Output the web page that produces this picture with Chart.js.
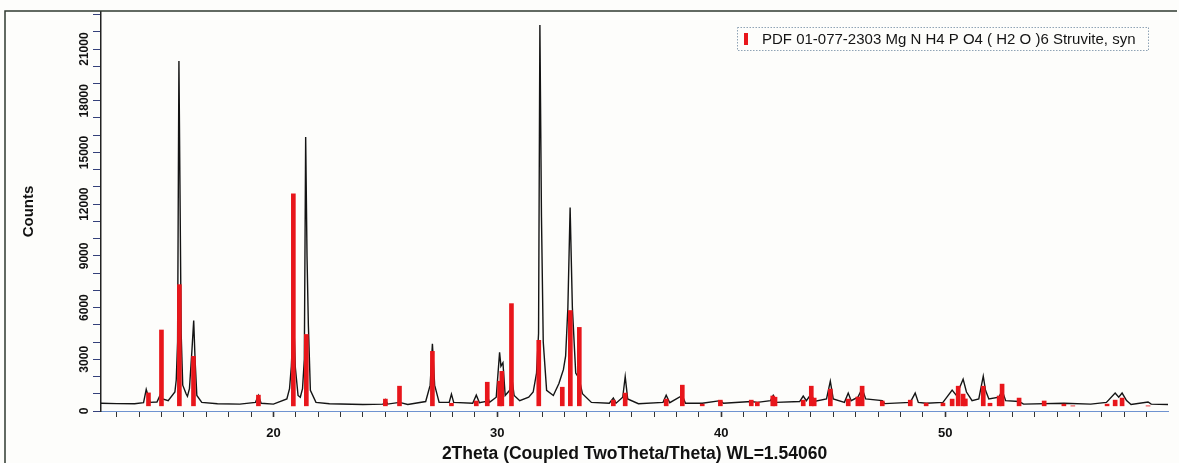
<!DOCTYPE html>
<html>
<head>
<meta charset="utf-8">
<script src="https://cdn.jsdelivr.net/npm/chart.js@4.4.1/dist/chart.umd.min.js"></script>
<style>
  html, body { margin: 0; padding: 0; background: #fdfdfb; }
</style>
</head>
<body>
<canvas id="xrd" width="1179" height="463"></canvas>
<script>
// measured pattern (2theta in degrees, counts)
const twoTheta = [
  12.3, 13.0, 13.8, 14.2, 14.32, 14.4, 14.5, 14.8, 14.95, 15.05, 15.3, 15.6, 15.66, 15.72, 15.78, 15.82, 15.88, 15.95,
  16.1, 16.16, 16.25, 16.36, 16.44, 16.5, 16.58, 16.8, 17.5, 18.5, 19.2, 19.33, 19.45, 20.0, 20.6, 20.72, 20.8,
  20.9, 20.98, 21.1, 21.2, 21.3, 21.38, 21.44, 21.5, 21.56, 21.65, 21.9, 22.5, 24.0, 24.9, 25.0, 25.1, 25.63,
  26.0, 26.8, 27.0, 27.1, 27.2, 27.4, 27.85, 27.95, 28.05, 28.9, 29.06, 29.2, 29.5, 29.55, 29.65, 29.95,
  30.1, 30.16, 30.25, 30.35, 30.55, 30.65, 30.75, 31.0, 31.4, 31.6, 31.75, 31.84, 31.9, 31.97, 32.05, 32.2, 32.5,
  32.75, 32.85, 32.95, 33.05, 33.15, 33.25, 33.35, 33.5, 33.65, 33.8, 34.2, 35.0, 35.18, 35.3, 35.6, 35.71,
  35.82, 36.3, 37.4, 37.54, 37.7, 38.26, 38.4, 39.15, 39.96, 40.1, 41.34, 41.61, 42.2, 42.32, 42.45, 43.5,
  43.66, 43.8, 44.02, 44.15, 44.7, 44.87, 45.0, 45.5, 45.67, 45.8, 46.1, 46.29, 46.45, 47.19, 47.3, 48.44,
  48.66, 48.8, 49.15, 49.9, 50.31, 50.5, 50.8, 50.95, 51.2, 51.5, 51.7, 51.8, 51.95, 52.4, 52.54, 52.7,
  53.3, 53.5, 55.3, 56.5, 57.2, 57.59, 57.75, 57.9, 58.1, 58.3, 59.06, 59.2, 59.95
];
const counts = [
  450, 430, 420, 480, 1250, 900, 500, 520, 950, 700, 600, 1100, 1800, 4000, 20300, 14000, 4500, 1500,
  1000, 850, 1300, 3500, 5250, 3000, 900, 500, 420, 400, 500, 900, 450, 400, 700, 1300, 2600,
  5500, 2500, 900, 800, 1300, 3000, 15900, 9000, 5000, 1200, 500, 420, 380, 400, 650, 400, 500,
  380, 550, 1500, 3900, 1500, 500, 500, 980, 500, 450, 920, 480, 550, 900, 500, 800,
  3400, 2600, 2800, 900, 1200, 1900, 900, 600, 800, 1100, 2200, 4500, 22400, 11300, 4000, 1200, 900,
  1600, 2000, 2400, 3200, 6000, 11800, 6000, 2200, 1900, 1000, 500, 450, 750, 450, 800, 2000,
  700, 420, 500, 920, 480, 900, 450, 450, 600, 450, 550, 500, 600, 900, 500, 550,
  870, 600, 1000, 550, 700, 1730, 700, 500, 1040, 600, 800, 1300, 700, 600, 430, 500,
  1040, 500, 450, 500, 1210, 900, 1850, 1100, 600, 700, 2020, 1200, 700, 800, 1200, 600,
  550, 400, 450, 400, 500, 1040, 800, 1040, 600, 380, 520, 400, 380
];

// reference sticks, PDF 01-077-2303
const refTwoTheta = [
  14.42, 15.0, 15.8, 16.43, 19.33, 20.89, 21.47, 25.0, 25.63, 27.1, 27.95, 29.06, 29.55, 30.1, 30.2,
  30.63, 31.85, 32.9, 33.26, 33.66, 35.18, 35.71, 37.54, 38.26, 39.15, 39.96, 41.34, 41.61, 42.3, 42.4,
  43.66, 44.02, 44.15, 44.87, 45.67, 46.1, 46.29, 47.19, 48.44, 49.15, 49.9, 50.31, 50.58, 50.8, 50.9,
  51.7, 52.0, 52.41, 52.54, 53.3, 54.42, 55.3, 55.7, 57.23, 57.59, 57.9, 59.06
];
const refIntensity = [
  1050, 4700, 7330, 3170, 920, 12600, 4440, 690, 1440, 3460, 450, 580, 1670, 1730, 2300,
  6230, 4100, 1380, 5830, 4850, 630, 1040, 690, 1500, 400, 630, 630, 520, 870, 800,
  630, 1440, 750, 1270, 690, 810, 1440, 580, 630, 460, 460, 690, 1440, 980, 700,
  1440, 450, 870, 1560, 750, 580, 400, 290, 400, 630, 750, 290
];
const stickBase = 300;

const xTickLabels = [20, 30, 40, 50];
const yTickLabels = [0, 3000, 6000, 9000, 12000, 15000, 18000, 21000];
const yMinorStep = 1000;

const refLabel = 'PDF 01-077-2303 Mg N H4 P O4 ( H2 O )6 Struvite, syn';
const FONT = '"Liberation Sans", Arial, sans-serif';

const paperPlugin = {
    id: 'paper',
    beforeDraw(chart) {
        const ctx = chart.ctx;
        ctx.save();
        ctx.fillStyle = '#fdfdfb';
        ctx.fillRect(0, 0, chart.width, chart.height);
        ctx.restore();
    },
    afterDraw(chart) {
        const ctx = chart.ctx;
        ctx.save();
        // outer frame
        ctx.strokeStyle = '#2f3a30';
        ctx.lineWidth = 1.5;
        ctx.beginPath();
        ctx.moveTo(5, chart.height + 2);
        ctx.lineTo(5, 11);
        ctx.lineTo(1177, 11);
        ctx.stroke();

        // legend box, top right
        ctx.setLineDash([1.5, 1.5]);
        ctx.strokeStyle = '#8fa3b5';
        ctx.lineWidth = 1;
        ctx.strokeRect(737.5, 27.5, 411, 23);
        ctx.setLineDash([]);
        ctx.fillStyle = chart.data.datasets[0].backgroundColor;
        ctx.fillRect(744, 33, 4, 12);
        ctx.fillStyle = '#141414';
        ctx.font = '15px ' + FONT;
        ctx.textBaseline = 'middle';
        ctx.fillText(chart.data.datasets[0].label, 762, 39.5);
        ctx.restore();
    }
};

new Chart(document.getElementById('xrd'), {
    type: 'bar',
    data: {
        datasets: [
            {
                type: 'bar',
                label: refLabel,
                data: refTwoTheta.map((x, i) => ({ x, y: [stickBase, refIntensity[i]] })),
                backgroundColor: '#e8161b',
                barThickness: 4,
                order: 1
            },
            {
                type: 'line',
                label: 'measured',
                data: twoTheta.map((x, i) => ({ x, y: counts[i] })),
                borderColor: '#141414',
                borderWidth: 1.4,
                pointRadius: 0,
                tension: 0,
                order: 2
            }
        ]
    },
    options: {
        responsive: false,
        animation: false,
        layout: { padding: { left: 0, right: 11, top: 12, bottom: 0 } },
        plugins: {
            legend: { display: false },
            tooltip: { enabled: false }
        },
        scales: {
            x: {
                type: 'linear',
                min: 12.3,
                max: 59.95,
                offset: false,
                ticks: {
                    stepSize: 1,
                    includeBounds: false,
                    autoSkip: false,
                    maxRotation: 0,
                    padding: 9,
                    color: '#111',
                    font: { family: FONT, size: 13, weight: 'bold' },
                    callback: v => xTickLabels.includes(v) ? String(v) : ''
                },
                grid: {
                    display: true,
                    offset: false,
                    drawOnChartArea: false,
                    drawTicks: true,
                    tickLength: 6,
                    tickColor: '#333',
                    tickWidth: c => (c.tick && xTickLabels.includes(c.tick.value)) ? 1.6 : 1
                },
                border: { display: true, color: '#6f93d0', width: 1, dash: [2, 2] },
                title: {
                    display: true,
                    text: '2Theta (Coupled TwoTheta/Theta) WL=1.54060',
                    color: '#111',
                    font: { family: FONT, size: 17.5, weight: 'bold' },
                    padding: { top: 0, bottom: -2 }
                },
                afterFit(s) { s.height = 52; }
            },
            y: {
                type: 'linear',
                min: 0,
                max: 23150,
                afterBuildTicks(s) {
                    s.ticks = [];
                    for (let v = 0; v <= s.max; v += yMinorStep) s.ticks.push({ value: v });
                },
                ticks: {
                    autoSkip: false,
                    minRotation: 90,
                    maxRotation: 90,
                    crossAlign: 'center',
                    padding: -8,
                    color: '#111',
                    font: { family: FONT, size: 12, weight: 'bold' },
                    callback: v => yTickLabels.includes(v) ? String(v) : ''
                },
                grid: {
                    display: true,
                    drawOnChartArea: false,
                    drawTicks: true,
                    tickLength: 8,
                    tickColor: '#34407a'
                },
                border: { display: true, color: '#222', width: 1.5 },
                title: {
                    display: true,
                    text: 'Counts',
                    color: '#111',
                    font: { family: FONT, size: 15, weight: 'bold' },
                    padding: { top: 20, bottom: 0 }
                },
                afterFit(s) { s.width = 101; }
            }
        }
    },
    plugins: [paperPlugin]
});
</script>
</body>
</html>
